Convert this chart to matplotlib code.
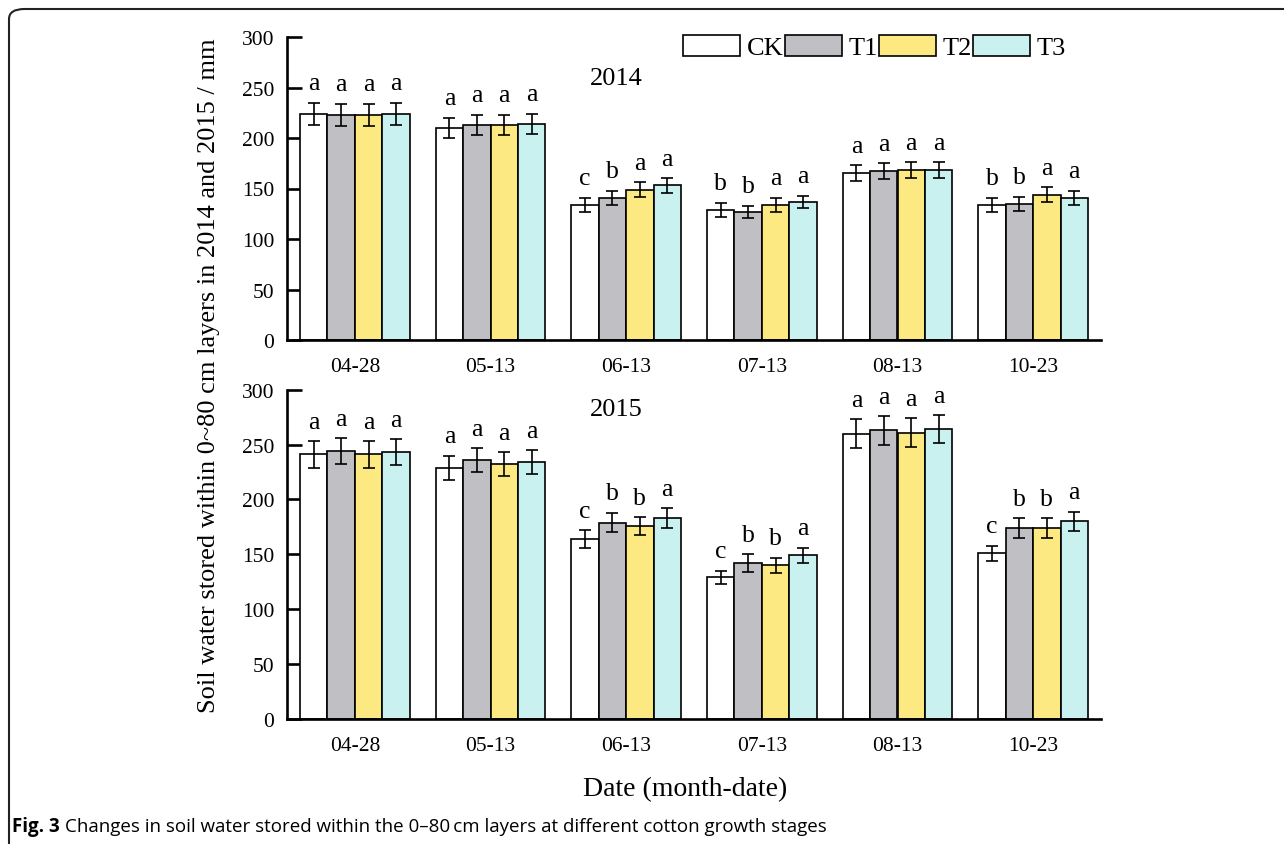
import matplotlib
matplotlib.use("Agg")
import matplotlib.pyplot as plt
import numpy as np
from matplotlib.patches import FancyBboxPatch

# ---------------- data ----------------
dates = ["04-28", "05-13", "06-13", "07-13", "08-13", "10-23"]
treatments = ["CK", "T1", "T2", "T3"]

y2014_CK = [224, 210, 134, 129, 165, 134]
y2014_T1 = [223, 213, 141, 127, 167, 135]
y2014_T2 = [223, 213, 149, 134, 168, 144]
y2014_T3 = [224, 214, 153, 137, 168, 141]
e2014_CK = [11, 10, 7, 7, 8, 7]
e2014_T1 = [11, 10, 7, 6, 8, 7]
e2014_T2 = [11, 10, 7, 7, 8, 7]
e2014_T3 = [11, 10, 7, 6, 8, 7]
l2014_CK = ["a", "a", "c", "b", "a", "b"]
l2014_T1 = ["a", "a", "b", "b", "a", "b"]
l2014_T2 = ["a", "a", "a", "a", "a", "a"]
l2014_T3 = ["a", "a", "a", "a", "a", "a"]

y2015_CK = [241, 229, 164, 129, 260, 151]
y2015_T1 = [244, 236, 179, 142, 263, 174]
y2015_T2 = [241, 232, 176, 140, 261, 174]
y2015_T3 = [243, 234, 183, 149, 264, 180]
e2015_CK = [12, 11, 8, 6, 13, 7]
e2015_T1 = [12, 11, 9, 8, 13, 9]
e2015_T2 = [12, 11, 8, 7, 13, 9]
e2015_T3 = [12, 11, 9, 7, 13, 9]
l2015_CK = ["a", "a", "c", "c", "a", "c"]
l2015_T1 = ["a", "a", "b", "b", "a", "b"]
l2015_T2 = ["a", "a", "b", "b", "a", "b"]
l2015_T3 = ["a", "a", "a", "a", "a", "a"]

yticks = [0, 50, 100, 150, 200, 250, 300]
colors = ["#FFFFFF", "#C0C0C4", "#FDE982", "#C9F1F0"]

serif = ["Liberation Serif", "DejaVu Serif"]

fig = plt.figure(figsize=(12.84, 8.45), dpi=100)
W, H = 1284, 845

def ax_rect(l, t, r, b):
    return [l / W, 1 - b / H, (r - l) / W, (b - t) / H]

ax1 = fig.add_axes(ax_rect(287, 38, 1101, 341))
ax2 = fig.add_axes(ax_rect(287, 390.7, 1101, 720))

datasets = [
    (ax1, [y2014_CK, y2014_T1, y2014_T2, y2014_T3],
     [e2014_CK, e2014_T1, e2014_T2, e2014_T3],
     [l2014_CK, l2014_T1, l2014_T2, l2014_T3], "2014", 0.865),
    (ax2, [y2015_CK, y2015_T1, y2015_T2, y2015_T3],
     [e2015_CK, e2015_T1, e2015_T2, e2015_T3],
     [l2015_CK, l2015_T1, l2015_T2, l2015_T3], "2015", 0.941),
]

x = np.arange(len(dates))
bw = 0.202
handles = []
for ax, vals, errs, lets, year, yy in datasets:
    for i, (v, e, l) in enumerate(zip(vals, errs, lets)):
        xpos = x + (i - 1.5) * bw
        b = ax.bar(xpos, v, width=bw, color=colors[i], edgecolor="black",
                   linewidth=1.2, label=treatments[i], zorder=2)
        ax.errorbar(xpos, v, yerr=e, fmt="none", ecolor="black",
                    elinewidth=1.2, capsize=4.3, capthick=1.2, zorder=3)
        for xp, vv, ee, ll in zip(xpos, v, e, l):
            ax.annotate(ll, (xp, vv + ee), xytext=(0, 6), textcoords="offset points",
                        ha="center", va="bottom", fontsize=18.5, family=serif)
        if ax is ax1:
            handles.append(b)
    ax.set_xlim(-0.5, 5.5)
    ax.set_ylim(0, 300)
    ax.set_yticks(yticks)
    ax.set_xticks(x)
    ax.set_xticklabels(dates)
    for s in ["top", "right"]:
        ax.spines[s].set_visible(False)
    for s in ["left", "bottom"]:
        ax.spines[s].set_linewidth(1.9)
    ax.tick_params(axis="y", direction="in", length=11, width=1.9, pad=9,
                   labelsize=15.5)
    ax.tick_params(axis="x", length=0, pad=12, labelsize=15.5)
    for lab in ax.get_xticklabels() + ax.get_yticklabels():
        lab.set_family(serif)
    ax.text(0.405, yy, year, transform=ax.transAxes, ha="center", va="center",
            fontsize=19, family=serif)

leg = ax1.legend(handles, treatments, loc="center left",
                 bbox_to_anchor=(683 / W, 1 - 48 / H), bbox_transform=fig.transFigure,
                 ncol=4, frameon=False, handlelength=2.16, handleheight=0.85,
                 handletextpad=0.25, columnspacing=0.05, borderpad=0, borderaxespad=0,
                 prop={"family": serif, "size": 19})

fig.text(209 / W, 1 - 376 / H,
         "Soil water stored within 0~80 cm layers in 2014 and 2015 / mm",
         rotation=90, ha="center", va="center", fontsize=19, family=serif)
fig.text(685 / W, 1 - 790 / H, "Date (month-date)", ha="center", va="center",
         fontsize=20, family=serif)

# frame
frame = FancyBboxPatch((9 / W, -0.1), 1.2, 1 - 10 / H + 0.1,
                       boxstyle="round,pad=0,rounding_size=0.012",
                       transform=fig.transFigure, fill=False, edgecolor="#222222",
                       linewidth=1.5, clip_on=False)
fig.patches.append(frame)

# caption
cap_font = ["Open Sans", "DejaVu Sans"]
t1 = fig.text(12 / W, 1 - 827 / H, "Fig. 3", ha="left", va="center",
              fontsize=13.5, fontweight="bold", family=cap_font)
fig.canvas.draw()
r = fig.canvas.get_renderer()
bb = t1.get_window_extent(r)
fig.text((bb.x1 + 5) / W, 1 - 827 / H,
         "Changes in soil water stored within the 0\u201380\u2009cm layers at different cotton growth stages",
         ha="left", va="center", fontsize=13.5, family=cap_font)

fig.savefig("out.png", dpi=100)
